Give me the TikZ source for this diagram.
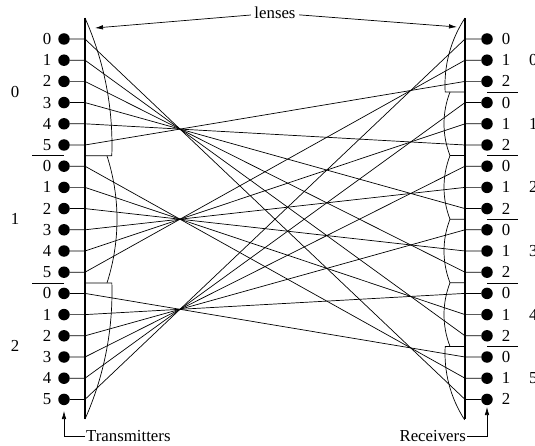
\documentclass[tikz,border=0pt]{standalone}
\usepackage{fontspec}
\setmainfont{Liberation Serif}
\usetikzlibrary{arrows.meta}
\tikzset{
	dot/.style={circle,fill=black,inner sep=0,outer sep=0,minimum size=11.5pt},
	bar/.style={line width=1.1pt},
	wire/.style={line width=0.7pt},
	lens/.style={line width=0.7pt},
	pointer/.style={line width=0.7pt,-{Latex[length=8pt,width=4.5pt]}}
}
\begin{document}
\begin{tikzpicture}[x=1pt,y=1pt,font=\fontsize{16.8}{20}\selectfont]
	\useasboundingbox (0,0) rectangle (535,445);
	\draw[bar] (85,26) -- (85,427);
	\draw[bar] (465,26) -- (465,427);
	\foreach \i in {0,...,17} {
		\pgfmathsetmacro\y{406-21.2*\i}
		\pgfmathtruncatemacro\tj{mod(\i,6)}
		\pgfmathtruncatemacro\rj{mod(\i,3)}
		\node[dot] (tx\i) at (64,\y) {};
		\node[dot] (rx\i) at (487,\y) {};
		\node (tn\i) at (47,\y) {\tj};
		\node (rn\i) at (506,\y) {\rj};
		\coordinate (tb\i) at (85,\y);
		\coordinate (rb\i) at (465,\y);
	}
	\foreach \g in {0,1,2}
		\foreach \j in {0,...,5} {
			\pgfmathtruncatemacro\a{6*\g+\j}
			\pgfmathtruncatemacro\b{3*(5-\j)+2-\g}
			\draw[wire] (tx\a) -- (tb\a) -- (rb\b) -- (rx\b);
		}
	\foreach \g/\y in {0/353,1/225.8,2/98.6}
		\node (tg\g) at (15,\y) {\g};
	\foreach \g in {0,...,5} {
		\pgfmathsetmacro\y{406-21.2*(3*\g+1)}
		\node (rg\g) at (533.3,\y) {\g};
	}
	% group separators
	\draw (32,289.4) -- (64,289.4);
	\draw (32,162.2) -- (64,162.2);
	\foreach \k in {0,...,4} {
		\pgfmathsetmacro\y{406-21.2*(3*\k+2.5)}
		\draw (487,\y) -- (518,\y);
	}
	% lenses
	\draw[lens] (85,427) arc[start angle=24,end angle=-2,radius=312] -- ++(-26.8,0);
	\draw[lens] (107,289.1) arc[start angle=17.9,end angle=-17.9,radius=206.6];
	\draw[lens] (85,162.1) -- ++(26.85,0) arc[start angle=1.7,end angle=-24,radius=312];
	\draw[lens] (465,427) arc[start angle=146.7,end angle=183.3,radius=122] -- ++(19.8,0);
	\foreach \c in {321.2,257.6,194,130.4}
		\draw[lens] (450,\c+31.8) arc[start angle=158.64,end angle=201.36,radius=87.3] -- ++(15,0);
	\draw[lens] (465,98.6) -- ++(-19.8,0) arc[start angle=176.7,end angle=213,radius=122];
	% labels
	\node (lenses) at (275,432) {lenses};
	\coordinate (llens) at (95,417);
	\coordinate (rlens) at (457,418);
	\draw[pointer] (lenses) -- (llens);
	\draw[pointer] (lenses) -- (rlens);
	\node[anchor=west,inner sep=1pt] (txlabel) at (85,9) {Transmitters};
	\node[anchor=east,inner sep=1pt] (rxlabel) at (467,9) {Receivers};
	\coordinate (txtip) at (64,34);
	\coordinate (rxtip) at (487,38);
	\draw[pointer] (txlabel.west) -| (txtip);
	\draw[pointer] (rxlabel.east) -| (rxtip);
\end{tikzpicture}
\end{document}
